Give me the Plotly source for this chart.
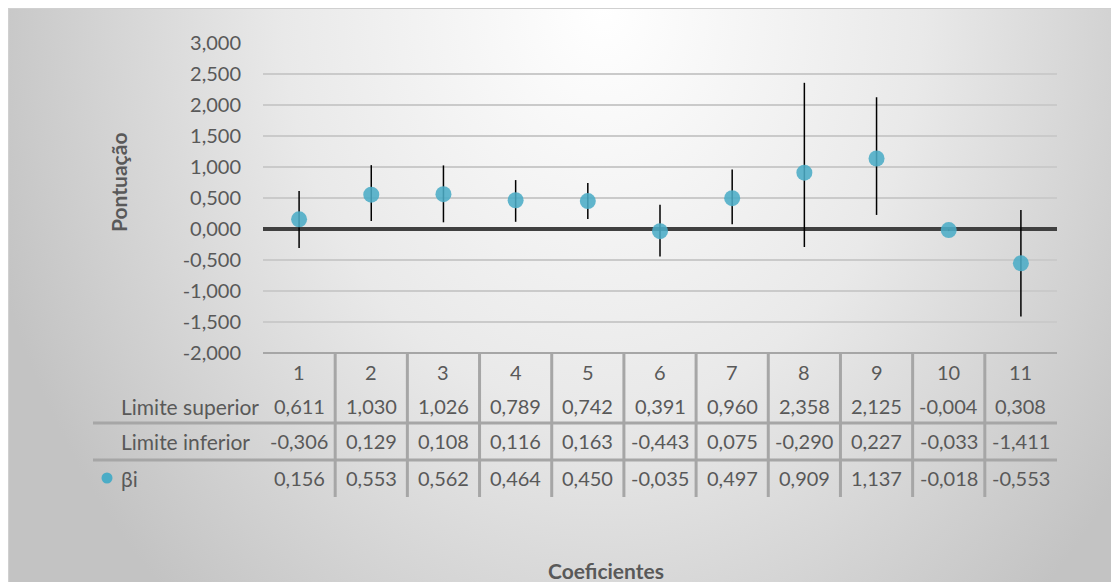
import base64
import plotly.graph_objects as go

# ---- data ----
categories = [1, 2, 3, 4, 5, 6, 7, 8, 9, 10, 11]
upper = [0.611, 1.030, 1.026, 0.789, 0.742, 0.391, 0.960, 2.358, 2.125, -0.004, 0.308]
lower = [-0.306, 0.129, 0.108, 0.116, 0.163, -0.443, 0.075, -0.290, 0.227, -0.033, -1.411]
beta = [0.156, 0.553, 0.562, 0.464, 0.450, -0.035, 0.497, 0.909, 1.137, -0.018, -0.553]
y_ticks = [-2.0, -1.5, -1.0, -0.5, 0.0, 0.5, 1.0, 1.5, 2.0, 2.5, 3.0]
row_labels = ["Limite superior", "Limite inferior", "βi"]
y_title = "Pontuação"
x_title = "Coeficientes"

# ---- geometry helpers (positions given in page pixels; page body has 8px margin) ----
OX, OY = 8, 8
W, H = 1111, 574
L, R, T, B = 263 - OX, 1057 - OX, 43 - OY, 353 - OY
PW, PH = R - L, B - T


def px(x):
    return (x - OX - L) / PW


def py(y):
    return (B - (y - OY)) / PH


FONT = "Lato, 'Open Sans', sans-serif"
TXT = "#595959"
MARK = "#4BACC6"
GRIDC = "#A6A6A6"
font = dict(family=FONT, size=21, color=TXT)
numfont = dict(family=FONT, size=20, color=TXT)


def fmt(v):
    return f"{v:.3f}".replace(".", ",")


fig = go.Figure()
fig.add_trace(go.Scatter(
    x=categories, y=beta, mode="markers", name="βi",
    marker=dict(size=16, color=MARK, opacity=0.88),
    error_y=dict(type="data", symmetric=False,
                 array=[u - b for u, b in zip(upper, beta)],
                 arrayminus=[b - l for b, l in zip(beta, lower)],
                 color="black", thickness=1.5, width=0),
    showlegend=False,
    hovertemplate="%{x}: %{y:.3f}<extra></extra>",
))

# background gradient as an SVG image
svg = f'''<svg xmlns="http://www.w3.org/2000/svg" width="{W}" height="{H}" viewBox="0 0 {W} {H}">
<defs><radialGradient id="g" gradientUnits="userSpaceOnUse" cx="595" cy="0" r="640"
 gradientTransform="translate(595 0) scale(1 1.25) translate(-595 0)">
<stop offset="0" stop-color="#FFFFFF"/>
<stop offset="0.5" stop-color="#E9E9E9"/>
<stop offset="1" stop-color="#C3C3C3"/>
</radialGradient></defs>
<rect x="0" y="0" width="{W}" height="{H}" fill="url(#g)"/>
</svg>'''
src = "data:image/svg+xml;base64," + base64.b64encode(svg.encode()).decode()

images = [dict(source=src, xref="paper", yref="paper",
               x=px(8), y=py(8), sizex=W / PW, sizey=H / PH,
               xanchor="left", yanchor="top", sizing="stretch", layer="below")]

shapes = []
# outer border
shapes.append(dict(type="rect", xref="paper", yref="paper",
                   x0=px(8.5), x1=px(1130), y0=py(8.5), y1=py(600),
                   line=dict(color="#D0D0D0", width=1.2), layer="below"))
# table top line
shapes.append(dict(type="line", xref="paper", yref="paper", x0=0, x1=1, y0=0, y1=0,
                   line=dict(color=GRIDC, width=2)))
# horizontal table separators
for yy in (423, 460):
    shapes.append(dict(type="line", xref="paper", yref="paper", x0=px(93), x1=1,
                       y0=py(yy), y1=py(yy), line=dict(color=GRIDC, width=3)))
# vertical table separators
for c in categories[:-1]:
    shapes.append(dict(type="line", xref="x", yref="paper", x0=c + 0.5, x1=c + 0.5,
                       y0=py(497), y1=0, line=dict(color=GRIDC, width=3)))
# legend key dot for βi
shapes.append(dict(type="circle", xref="paper", yref="paper",
                   x0=px(101.5), x1=px(112.5), y0=py(472.5), y1=py(483.5),
                   fillcolor=MARK, line=dict(width=0)))

ann = []
row_y = [406, 441, 478]
for c in categories:
    ann.append(dict(x=c, y=py(372), xref="x", yref="paper", text=str(c), showarrow=False,
                    xanchor="center", yanchor="middle", font=numfont))
for vals, yy in zip([upper, lower, beta], row_y):
    for c, v in zip(categories, vals):
        ann.append(dict(x=c, y=py(yy), xref="x", yref="paper", text=fmt(v), showarrow=False,
                        xanchor="center", yanchor="middle", font=numfont))
for lab, yy in zip(row_labels, row_y):
    ann.append(dict(x=px(119), y=py(yy), xref="paper", yref="paper", text=lab,
                    showarrow=False, xanchor="left", yanchor="middle", font=font))
ann.append(dict(x=px(118), y=py(183), xref="paper", yref="paper", text=f"<b>{y_title}</b>",
                showarrow=False, textangle=-90, xanchor="center", yanchor="middle", font=font))
ann.append(dict(x=px(606), y=py(570), xref="paper", yref="paper", text=f"<b>{x_title}</b>",
                showarrow=False, xanchor="center", yanchor="middle", font=font))

fig.update_layout(
    width=W, height=H, autosize=False,
    margin=dict(l=L, r=W - R, t=T, b=H - B, pad=0),
    paper_bgcolor="white", plot_bgcolor="rgba(0,0,0,0)",
    images=images, shapes=shapes, annotations=ann,
    xaxis=dict(range=[0.5, 11.5], showgrid=False, zeroline=False, showline=False,
               showticklabels=False, ticks=""),
    yaxis=dict(range=[-2, 3], tickmode="array", tickvals=y_ticks,
               ticktext=[fmt(v) for v in y_ticks],
               showgrid=True, gridcolor="#CACACA", gridwidth=1.5,
               zeroline=True, zerolinecolor="#404040", zerolinewidth=3.5,
               showline=False, ticks="", ticklabelstandoff=21,
               tickfont=numfont),
    showlegend=False,
)

fig.write_html("out.html")
